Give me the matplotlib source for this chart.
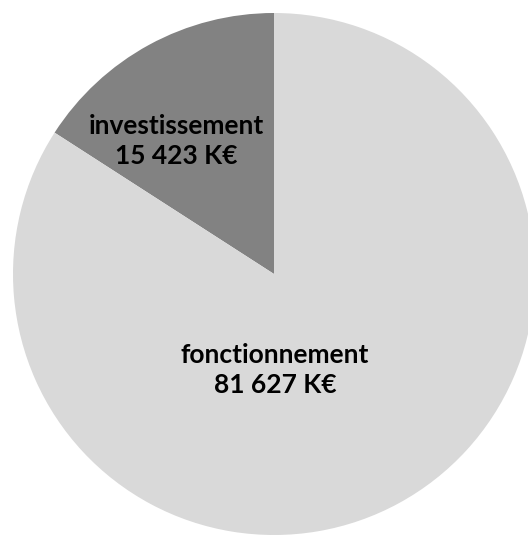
import matplotlib
matplotlib.use("Agg")
import matplotlib.pyplot as plt

# ==========================================
# DATA
# ==========================================

categories = ["investissement", "fonctionnement"]
values = [15423, 81627]
value_labels = ["15 423 K€", "81 627 K€"]
colors = ["#828282", "#d9d9d9"]

# ==========================================
# FIGURE
# ==========================================

W, H = 528, 535
fig = plt.figure(figsize=(W / 100, H / 100), dpi=100)
ax = fig.add_axes([0, 0, 1, 1])

# pie in pixel coordinates (y axis inverted, so clockwise flips)
ax.pie(
    values,
    colors=colors,
    center=(274, 274),
    radius=261,
    startangle=-90,
    counterclock=False,
    wedgeprops={"linewidth": 0},
    frame=True,
)
ax.set_xlim(0, W)
ax.set_ylim(H, 0)
ax.axis("off")

label_pos = [(176, 141), (275, 370)]
for (x, y), cat, lab in zip(label_pos, categories, value_labels):
    ax.text(x, y, cat + "\n" + lab, ha="center", va="center",
            fontsize=19, fontweight="bold", family="Lato",
            linespacing=1.28, color="black")

fig.savefig("out.png", dpi=100)
